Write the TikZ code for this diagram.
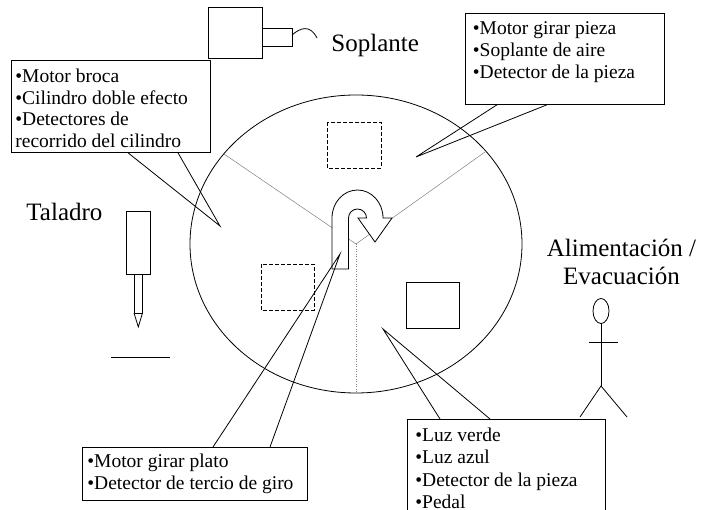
\documentclass[tikz,border=0pt]{standalone}
\usepackage{fontspec}
\setmainfont{Liberation Serif}
\begin{document}
\begin{tikzpicture}[
  x=1pt,
  y=-1pt,
  line width=0.8pt,
  every node/.style={
    inner sep=0pt,
    font=\fontsize{19.5}{22}\selectfont,
  },
  item/.style={
    anchor=base west,
  },
  label/.style={
    font=\fontsize{25}{28}\selectfont,
  },
  callout/.style={
    draw,
    anchor=north west,
  },
  sector/.style={
    draw=gray,
    line width=0.5pt,
  },
  station/.style={
    draw,
    dash pattern=on 4pt off 2pt,
  }
]
\useasboundingbox (0,0) rectangle (710,510);
\clip (0,0) rectangle (710,510);

% rotary table and its three sectors
\coordinate (hub) at (356,244);
\coordinate (rimA) at (224,154);
\coordinate (rimB) at (485,152);
\coordinate (rimC) at (356,393);
\draw (hub) ellipse [x radius=166, y radius=149];
\draw[sector] (rimA) -- (hub) -- (rimB);
\draw[sector, dotted] (hub) -- (rimC);

% turning arrow
\draw[fill=white] (332,269) -- (332,218)
  arc[start angle=180, end angle=360, x radius=25.5, y radius=28]
  -- (392,218) -- (375,242) -- (358,218) -- (366.5,218)
  arc[start angle=0, end angle=-180, radius=9]
  -- (348.5,269) -- cycle;

\draw[station] (327,122) rectangle (381,168);
\draw[station] (261,264) rectangle (314,310);
\draw (406,282) rectangle (459,328);

% blower
\draw (208,7) rectangle (262,58);
\draw (262,28) rectangle (292,46);
\draw (292,35) .. controls (300,28) and (310,24) .. (317,38);
\node[item, label] (blowLbl) at (331,52) {Soplante};

% drill
\draw (126,211) rectangle (150,274);
\draw (134,274) rectangle (142.5,313);
\draw (134,313) -- (138.3,327) -- (142.5,313);
\draw (111,357) -- (170,357);
\node[item, label] (drillLbl) at (26,221) {Taladro};

% operator
\draw (601,311) ellipse [x radius=8, y radius=12.5];
\draw (601,323.5) -- (601,386);
\draw (589,342) -- (618,342);
\draw (580,417) -- (601,386) -- (627,417);
\node[anchor=base, label] (feedLbl) at (621.5,257) {Alimentación /};
\node[anchor=base, label] (feedLbl2) at (621.5,285) {Evacuación};

% callouts
\coordinate (tipDrill) at (220,226);
\coordinate (tipBlow) at (416,157);
\coordinate (tipTable) at (340,254);
\coordinate (tipFeed) at (383,329);

\node[callout, minimum width=199pt, minimum height=92pt] (drillBox) at (11,60) {};
\draw ([xshift=117pt]drillBox.south west) -- (tipDrill) -- ([xshift=167pt]drillBox.south west);
\foreach \txt [count=\i from 0] in {•Motor broca, •Cilindro doble efecto, •Detectores de, recorrido del cilindro}
  \node[item] (drill\i) at (15,{83+21.5*\i}) {\txt};

\node[callout, minimum width=199pt, minimum height=91pt] (blowBox) at (465,13) {};
\draw ([xshift=32pt]blowBox.south west) -- (tipBlow) -- ([xshift=82pt]blowBox.south west);
\foreach \txt [count=\i from 0] in {•Motor girar pieza, •Soplante de aire, •Detector de la pieza}
  \node[item] (blow\i) at (472.5,{35+22*\i}) {\txt};

\node[callout, minimum width=225pt, minimum height=53pt] (tableBox) at (82,447) {};
\draw ([xshift=131pt]tableBox.north west) -- (tipTable) -- ([xshift=188pt]tableBox.north west);
\foreach \txt [count=\i from 0] in {•Motor girar plato, •Detector de tercio de giro}
  \node[item] (table\i) at (87,{468+22*\i}) {\txt};

\node[callout, minimum width=198pt, minimum height=120pt] (feedBox) at (407,419) {};
\draw ([xshift=33pt]feedBox.north west) -- (tipFeed) -- ([xshift=83pt]feedBox.north west);
\foreach \txt [count=\i from 0] in {•Luz verde, •Luz azul, •Detector de la pieza, •Pedal}
  \node[item] (feed\i) at (415,{441.5+22.5*\i}) {\txt};
\end{tikzpicture}
\end{document}
